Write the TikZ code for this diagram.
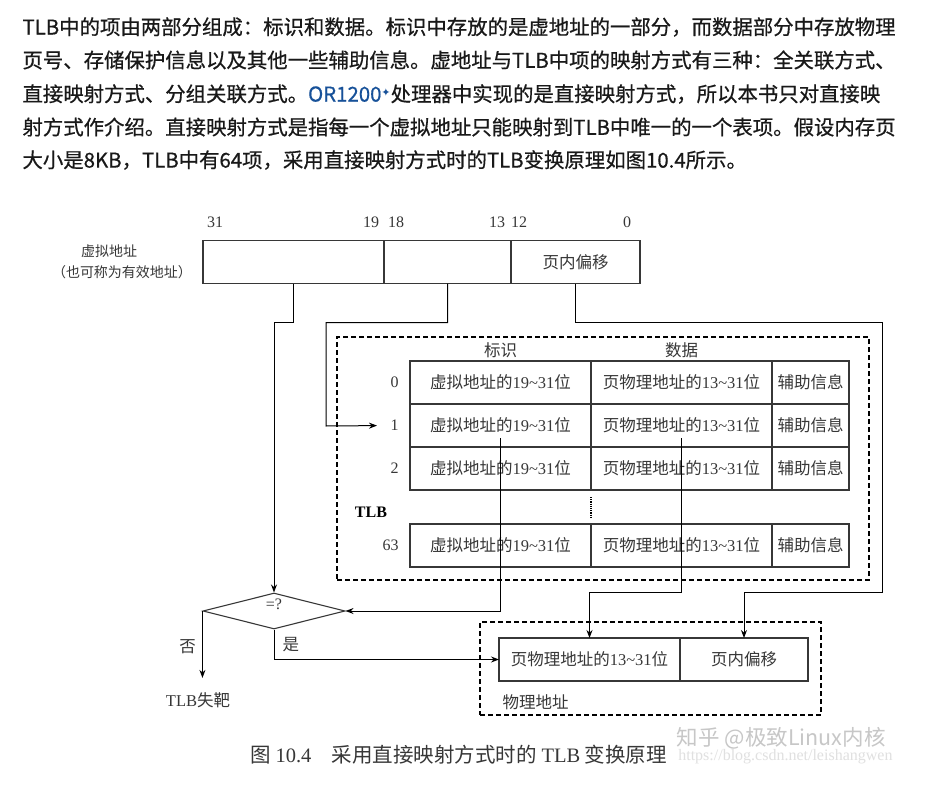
\documentclass[tikz,border=0pt]{standalone}
\usepackage{fontspec}
\setmainfont{Noto Sans CJK SC}
\newfontfamily\parafont{Noto Sans CJK SC}[RawFeature={embolden=0.6}]
\newfontfamily\numfont{Liberation Serif}
\newfontfamily\symfont{DejaVu Sans}
\usepackage{tikz}
\usetikzlibrary{arrows.meta,positioning,shapes.geometric}

\definecolor{zhblue}{RGB}{23,81,153}
\definecolor{inkgray}{RGB}{55,55,55}

\newcommand{\tagtext}{虚拟地址的{\numfont 19\textasciitilde31}位}
\newcommand{\datatext}{页物理地址的{\numfont 13\textasciitilde31}位}

\begin{document}
\begin{tikzpicture}[x=1pt,y=-1pt,->,>={Stealth[length=8pt,width=6pt]},line width=1pt,
  para/.style={anchor=west,inner sep=0,font=\parafont\fontsize{20.4}{24}\selectfont,text=black!90},
  lbl/.style={inner sep=2pt,text=inkgray,font=\fontsize{16.5}{19}\selectfont},
  num/.style={lbl,font=\fontsize{16}{19}\selectfont\numfont},
  cell/.style={draw=inkgray,line width=1.2pt,inner sep=0,outer sep=0,minimum height=43,
    text=inkgray,font=\fontsize{16.5}{19}\selectfont},
  dashbox/.style={draw,line width=2.6pt,dash pattern=on 5pt off 3pt,inner sep=0,
    minimum width=#1},
  cmpnode/.style={diamond,draw=inkgray,line width=1.1pt,inner sep=0,minimum width=142,
    minimum height=36,aspect=3.9}]

  \fill[white,-] (0,0) rectangle (951,797);
  \useasboundingbox (0,0) rectangle (951,797);

  % text above the figure
  \node[para] (l1) at (22,27) {TLB中的项由两部分组成：标识和数据。标识中存放的是虚地址的一部分，而数据部分中存放物理};
  \node[para] (l2) at (22,60) {页号、存储保护信息以及其他一些辅助信息。虚地址与TLB中项的映射方式有三种：全关联方式、};
  \node[para] (l3) at (22,94) {直接映射方式、分组关联方式。\textcolor{zhblue}{OR1200\raisebox{0.45ex}{\symfont\fontsize{11}{11}\selectfont ✦}}处理器中实现的是直接映射方式，所以本书只对直接映};
  \node[para] (l4) at (22,127) {射方式作介绍。直接映射方式是指每一个虚拟地址只能映射到TLB中唯一的一个表项。假设内存页};
  \node[para] (l5) at (22,160) {大小是8KB，TLB中有64项，采用直接映射方式时的TLB变换原理如图10.4所示。};

  % virtual address
  \node[cell,minimum width=181] (va1) at (293.5,262) {};
  \node[cell,minimum width=127] (va2) [right=0pt of va1] {};
  \node[cell,minimum width=129] (va3) [right=0pt of va2] {页内偏移};
  \node[lbl,font=\fontsize{14}{17}\selectfont] (valbl) at (109,251) {虚拟地址};
  \node[lbl,font=\fontsize{14}{17}\selectfont] (valbl2) at (122,272) {（也可称为有效地址）};
  \node[num] (b31) at (215,222) {31};
  \node[num] (b19) at (371,222) {19};
  \node[num] (b18) at (396,222) {18};
  \node[num] (b13) at (497,222) {13};
  \node[num] (b12) at (519,222) {12};
  \node[num] (b0)  at (627,222) {0};

  % TLB
  \node[dashbox=532,minimum height=243] (tlbbox) at (603,458.5) {};
  \node[cell,minimum width=181] (t0) at (500.5,382.5) {\tagtext};
  \node[cell,minimum width=181] (d0) [right=0pt of t0] {\datatext};
  \node[cell,minimum width=77] (a0) [right=0pt of d0] {辅助信息};
  \node[cell,minimum width=181] (t1) [below=0pt of t0] {\tagtext};
  \node[cell,minimum width=181] (d1) [right=0pt of t1] {\datatext};
  \node[cell,minimum width=77] (a1) [right=0pt of d1] {辅助信息};
  \node[cell,minimum width=181] (t2) [below=0pt of t1] {\tagtext};
  \node[cell,minimum width=181] (d2) [right=0pt of t2] {\datatext};
  \node[cell,minimum width=77] (a2) [right=0pt of d2] {辅助信息};
  \node[cell,minimum width=181] (t63) at (500.5,545.5) {\tagtext};
  \node[cell,minimum width=181] (d63) [right=0pt of t63] {\datatext};
  \node[cell,minimum width=77] (a63) [right=0pt of d63] {辅助信息};
  \node[num,inner sep=0] (n0) [left=11pt of t0] {0};
  \node[num,inner sep=0] (n1) [left=11pt of t1] {1};
  \node[num,inner sep=0] (n2) [left=11pt of t2] {2};
  \node[num,inner sep=0] (n63) [left=11pt of t63] {63};
  \node[lbl] (hdtag) [above=1pt of t0] {标识};
  \node[lbl] (hddata) [above=1pt of d0] {数据};
  \node[num,font=\fontsize{16}{19}\selectfont\numfont\bfseries,text=black] (tlblbl) at (371,512) {TLB};
  \draw[-,densely dotted,line width=1.2pt] ([yshift=-7pt]d2.south west) -- ([yshift=6pt]d63.north west);

  % compare
  \node[cmpnode] (cmp) at (274,611) {};
  \node[num] (cmpq) at (274,604) {=?};
  \node[lbl] (miss) at (198,700) {{\numfont TLB}失靶};

  % physical address
  \node[dashbox=341,minimum height=93] (pabox) at (650.5,668.5) {};
  \node[cell,minimum width=181] (pa1) at (589.5,659.5) {\datatext};
  \node[cell,minimum width=128] (pa2) [right=0pt of pa1] {页内偏移};
  \node[lbl,anchor=west] (palbl) at (500,702) {物理地址};

  \coordinate (bend2) at (326,426);
  \coordinate (bend3) at (882,592);
  \coordinate (tsrc) at ([yshift=9pt]t1.south);
  \coordinate (dsrc) at ([yshift=9pt]d1.south);

  \draw (va1.south) -- ++(0,39) -| (cmp.north);
  \draw[shorten >=13pt] (va2.south) -- ++(0,39) -| (bend2) -- (n1.west);
  \draw (va3.south) -- ++(0,39) -| (bend3) -| (pa2.north);
  \draw (tsrc) |- (cmp.east);
  \draw (dsrc) -- (dsrc |- bend3) -| (pa1.north);
  \draw (cmp.south) |- node[lbl,pos=0.25,right=6pt] {是} (pa1.west);
  \draw[shorten >=12pt] (cmp.west) -- node[lbl,pos=0.45,left=4pt] {否} (cmp.west |- miss.north);

  % caption and marks
  \node[inner sep=0,anchor=west,text=inkgray,font=\fontsize{20.5}{24}\selectfont] (cap) at (250,755)
    {图 {\numfont 10.4}\hspace{1em}采用直接映射方式时的 {\numfont TLB} 变换原理};
  \node[inner sep=0,anchor=east,text=black!12,font=\fontsize{16}{19}\selectfont\numfont] (csdn) at (893,757) {https://blog.csdn.net/leishangwen};
  \node[inner sep=0,anchor=east,text=black!22,font=\fontsize{21.5}{25}\selectfont] (zhihu) at (886,738) {知乎 @极致Linux内核};
\end{tikzpicture}
\end{document}
